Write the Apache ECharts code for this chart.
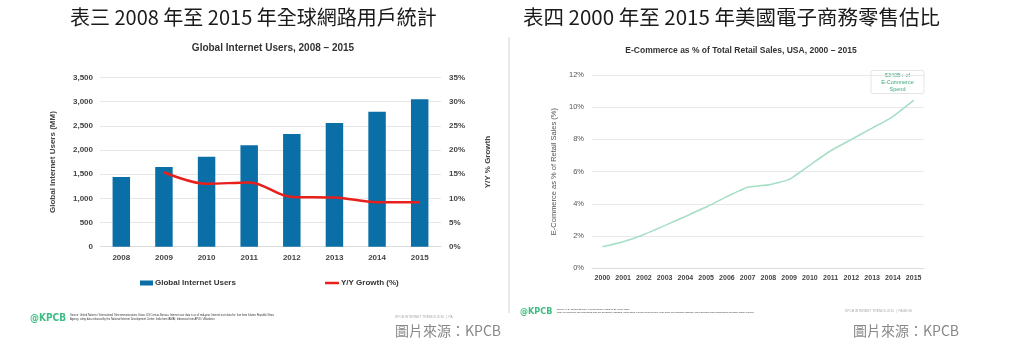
<!DOCTYPE html>
<html>
<head>
<meta charset="utf-8">
<script src="https://cdn.jsdelivr.net/npm/echarts@6/dist/echarts.min.js"></script>
<style>
html,body{margin:0;padding:0;background:#fff;}
#chart{width:1020px;height:356px;}
</style>
</head>
<body>
<div id="chart"></div>
<script>
// ---- Left chart data ----
var usersYears = ['2008','2009','2010','2011','2012','2013','2014','2015'];
var usersMM = [1440, 1650, 1860, 2100, 2330, 2560, 2790, 3050];
var yoyGrowth = [null, 15.4, 13.0, 13.3, 10.3, 10.2, 9.2, 9.2];
var usersTicks = [0, 500, 1000, 1500, 2000, 2500, 3000, 3500];
var growthTicks = [0, 5, 10, 15, 20, 25, 30, 35];

// ---- Right chart data ----
var ecomYears = ['2000','2001','2002','2003','2004','2005','2006','2007','2008','2009','2010','2011','2012','2013','2014','2015'];
var ecomShare = [1.34, 1.65, 2.1, 2.65, 3.22, 3.8, 4.45, 5.03, 5.18, 5.52, 6.41, 7.3, 8.0, 8.7, 9.42, 10.42];
var ecomTicks = [0, 2, 4, 6, 8, 10, 12];

var heading1 = '表三 2008 年至 2015 年全球網路用戶統計';
var heading2 = '表四 2000 年至 2015 年美國電子商務零售估比';
var sourceLabel = '圖片來源：KPCB';

var chart = echarts.init(document.getElementById('chart'), null, {renderer: 'canvas'});

var blue = '#0a6fa6';
var red = '#e8201c';
var green = '#a6dfc6';
var kpcbGreen = '#3dbd83';
var sansEn = 'Arial, "Liberation Sans", sans-serif';
var sansCJK = '"Noto Sans CJK TC", "Noto Sans", sans-serif';

function fmtThousands(v){ return String(v).replace(/\B(?=(\d{3})+(?!\d))/g, ','); }

var option = {
  backgroundColor: '#fff',
  animation: false,
  title: [
    {text: 'Global Internet Users, 2008 – 2015', left: 268, top: 38, textAlign: 'center',
     textStyle: {fontFamily: sansEn, fontSize: 10, fontWeight: 'bold', color: '#333'}},
    {text: 'E-Commerce as % of Total Retail Sales, USA, 2000 – 2015', left: 736, top: 41, textAlign: 'center',
     textStyle: {fontFamily: sansEn, fontSize: 8.5, fontWeight: 'bold', color: '#333'}}
  ],
  legend: [
    {data: [{name: 'Global Internet Users', icon: 'rect'}], left: 140, top: 279, padding: 0, itemWidth: 13, itemHeight: 5, itemGap: 2,
     textStyle: {fontFamily: sansEn, fontSize: 8, fontWeight: 'bold', color: '#333', padding: [0,0,0,-3]}},
    {data: [{name: 'Y/Y Growth (%)', icon: 'rect'}], left: 325, top: 279, padding: 0, itemWidth: 14, itemHeight: 2.5, itemGap: 2,
     textStyle: {fontFamily: sansEn, fontSize: 8, fontWeight: 'bold', color: '#333', padding: [0,0,0,-3]}}
  ],
  grid: [
    {left: 100, right: 579, top: 77.5, bottom: 109.3},
    {left: 592, right: 96, top: 75, bottom: 87.7}
  ],
  xAxis: [
    {type: 'category', gridIndex: 0, data: usersYears,
     axisLine: {lineStyle: {color: '#dcdcdc'}}, axisTick: {show: false},
     axisLabel: {fontFamily: sansEn, fontSize: 8, fontWeight: 'bold', color: '#444', margin: 7}},
    {type: 'category', gridIndex: 1, data: ecomYears, boundaryGap: true,
     axisLine: {lineStyle: {color: '#dcdcdc'}}, axisTick: {show: false},
     axisLabel: {fontFamily: sansEn, fontSize: 7, fontWeight: 'bold', color: '#444', margin: 6, interval: 0}}
  ],
  yAxis: [
    {type: 'value', gridIndex: 0, min: usersTicks[0], max: usersTicks[usersTicks.length-1], interval: 500,
     name: 'Global Internet Users (MM)', nameLocation: 'middle', nameGap: 43, nameRotate: 90,
     nameTextStyle: {fontFamily: sansEn, fontSize: 8, fontWeight: 'bold', color: '#444'},
     axisLine: {show: false}, axisTick: {show: false},
     axisLabel: {fontFamily: sansEn, fontSize: 8, fontWeight: 'bold', color: '#444', margin: 7,
                 formatter: function(v){ return fmtThousands(v); }},
     splitLine: {lineStyle: {color: '#e6e6e6', width: 1}}},
    {type: 'value', gridIndex: 0, position: 'right', min: growthTicks[0], max: growthTicks[growthTicks.length-1], interval: 5,
     name: 'Y/Y % Growth', nameLocation: 'middle', nameGap: 43, nameRotate: 90,
     nameTextStyle: {fontFamily: sansEn, fontSize: 8, fontWeight: 'bold', color: '#444'},
     axisLine: {show: false}, axisTick: {show: false}, splitLine: {show: false},
     axisLabel: {fontFamily: sansEn, fontSize: 8, fontWeight: 'bold', color: '#444', margin: 8, formatter: '{value}%'}},
    {type: 'value', gridIndex: 1, min: ecomTicks[0], max: ecomTicks[ecomTicks.length-1], interval: 2,
     name: 'E-Commerce as % of Retail Sales (%)', nameLocation: 'middle', nameGap: 34, nameRotate: 90,
     nameTextStyle: {fontFamily: sansEn, fontSize: 7.5, color: '#555'},
     axisLine: {show: false}, axisTick: {show: false},
     axisLabel: {fontFamily: sansEn, fontSize: 7.5, color: '#555', margin: 8, formatter: '{value}%'},
     splitLine: {lineStyle: {color: '#e8e8e8', width: 1}}}
  ],
  series: [
    {name: 'Global Internet Users', type: 'bar', xAxisIndex: 0, yAxisIndex: 0, data: usersMM,
     barWidth: '41%', itemStyle: {color: blue}},
    {name: 'Y/Y Growth (%)', type: 'line', xAxisIndex: 0, yAxisIndex: 1, data: yoyGrowth,
     smooth: 0.35, symbol: 'none', itemStyle: {color: red}, lineStyle: {color: red, width: 2.5}},
    {name: 'E-Commerce', type: 'line', xAxisIndex: 1, yAxisIndex: 2, data: ecomShare,
     symbol: 'none', smooth: 0.15, lineStyle: {color: green, width: 1.6}, itemStyle: {color: green}}
  ],
  graphic: [
    {type: 'text', left: 70, top: 7, style: {text: heading1, font: '20px ' + sansCJK, fill: '#1a1a1a'}},
    {type: 'text', left: 523, top: 7, style: {text: heading2, font: '20.5px ' + sansCJK, fill: '#1a1a1a'}},
    {type: 'line', shape: {x1: 509, y1: 37, x2: 509, y2: 313}, style: {stroke: '#d6d6d6', lineWidth: 1}},
    // annotation
    {type: 'rect', shape: {x: 871, y: 70.5, width: 53, height: 23, r: 2}, style: {fill: '#fff', stroke: '#e4e4e4', lineWidth: 1}},
    {type: 'text', x: 897.5, y: 72, style: {text: '$340B+ of\nE-Commerce\nSpend', font: '5.5px ' + sansEn, fill: '#3aaa7a', align: 'center', lineHeight: 7}},
    // left footer
    {type: 'text', left: 30, top: 313, style: {text: '@KPCB', font: 'bold 10px "DejaVu Sans Condensed", ' + sansEn, fill: kpcbGreen}},
    {type: 'text', left: 70, top: 314, style: {text: 'Source: United Nations / International Telecommunications Union, US Census Bureau. Internet user data is as of mid-year. Internet user data for: Iran from Islamic Republic News\nAgency, citing data released by the National Internet Development Center; India from IAMAI; Indonesia from APJII / eMarketer.', font: '2.6px ' + sansEn, fill: '#333', lineHeight: 3.4}},
    {type: 'text', left: 395, top: 315.5, style: {text: 'KPCB INTERNET TRENDS 2016  |  PA', font: '3.3px ' + sansEn, fill: '#aaa'}},
    {type: 'text', left: 395, top: 324, style: {text: sourceLabel, font: '14px ' + sansCJK, fill: '#888'}},
    // right footer
    {type: 'text', left: 520, top: 307, style: {text: '@KPCB', font: 'bold 9px "DejaVu Sans Condensed", ' + sansEn, fill: kpcbGreen}},
    {type: 'text', left: 557, top: 307.5, style: {text: 'Source: U.S. Census Bureau, Federal Reserve Bank of St. Louis (3/15).\nNote: E-commerce and retail sales data are seasonally adjusted. Retail sales exclude food services, retail trade from gasoline stations, and retail trade from automobiles and other motor vehicles.', font: '2.3px ' + sansEn, fill: '#333', lineHeight: 3}},
    {type: 'text', left: 845, top: 309.5, style: {text: 'KPCB INTERNET TRENDS 2015  |  PAGE 80', font: '3.3px ' + sansEn, fill: '#aaa'}},
    {type: 'text', left: 853, top: 324, style: {text: sourceLabel, font: '14px ' + sansCJK, fill: '#888'}}
  ]
};
chart.setOption(option);
</script>
</body>
</html>
